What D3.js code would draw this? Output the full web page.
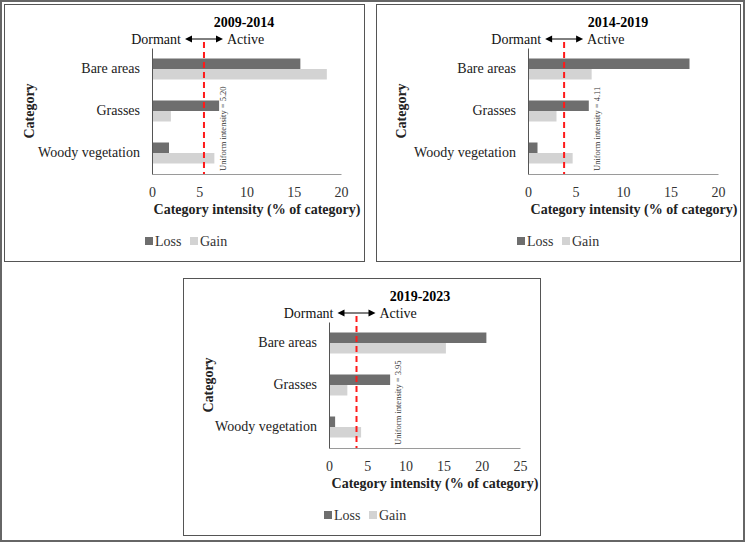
<!DOCTYPE html>
<html lang="en">
  <head>
    <meta charset="UTF-8" />
    <title>Category intensity</title>
    <script src="https://d3js.org/d3.v7.min.js"></script>
    <style>
      body {
        margin: 0;
        background: #fff;
      }
    </style>
  </head>
  <body>
    <div id="chart-container"></div>

    <script>
      // Data
      const categories = ['Bare areas', 'Grasses', 'Woody vegetation'];
      const periods = ['2009-2014', '2014-2019', '2019-2023'];
      const series = ['Loss', 'Gain'];
      const loss = [
        [15.7, 7.1, 1.8],
        [17.0, 6.4, 1.0],
        [20.6, 8.0, 0.8],
      ];
      const gain = [
        [18.5, 2.0, 6.6],
        [6.7, 3.0, 4.7],
        [15.3, 2.4, 4.2],
      ];
      const uniformLabels = ['5.20', '4.11', '3.95'];
      const uniformLine = [5.5, 3.8, 3.6];
      const xMax = [20, 20, 25];
      const xTicks = [
        [0, 5, 10, 15, 20],
        [0, 5, 10, 15, 20],
        [0, 5, 10, 15, 20, 25],
      ];

      const colors = { Loss: '#6e6e6e', Gain: '#d3d3d3' };
      const serif = "'Liberation Serif', 'Times New Roman', 'DejaVu Serif', serif";

      // panel boxes (layout only)
      const boxes = [
        { x: 4, y: 4, w: 360, h: 257, plotLeft: 148, plotW: 189, labelX: 222, titleX: 240, axisTitleX: 253 },
        { x: 376, y: 4, w: 364, h: 257, plotLeft: 152, plotW: 190, labelX: 224, titleX: 242, axisTitleX: 258 },
        { x: 183, y: 278, w: 357, h: 257, plotLeft: 146, plotW: 191, labelX: 218, titleX: 237, axisTitleX: 252 },
      ];

      const svg = d3
        .select('#chart-container')
        .append('svg')
        .attr('width', 746)
        .attr('height', 543);

      // outer frame
      svg
        .append('rect')
        .attr('x', 1)
        .attr('y', 1)
        .attr('width', 743)
        .attr('height', 540)
        .attr('fill', 'none')
        .attr('stroke', '#666')
        .attr('stroke-width', 2);

      periods.forEach(function (period, i) {
        const b = boxes[i];
        const g = svg
          .append('g')
          .attr('transform', `translate(${b.x},${b.y})`);

        g.append('rect')
          .attr('x', 0.5)
          .attr('y', 0.5)
          .attr('width', b.w)
          .attr('height', b.h)
          .attr('fill', '#fff')
          .attr('stroke', '#555')
          .attr('stroke-width', 1);

        const x = d3
          .scaleLinear()
          .domain([0, xMax[i]])
          .range([b.plotLeft, b.plotLeft + b.plotW]);

        const y = d3
          .scaleBand()
          .domain(categories)
          .range([44, 170])
          .paddingInner(0.5)
          .paddingOuter(0.25);

        const ySub = d3
          .scaleBand()
          .domain(series)
          .range([0, y.bandwidth()]);

        const rows = categories.map((c, k) => ({
          category: c,
          Loss: loss[i][k],
          Gain: gain[i][k],
        }));

        // bars
        rows.forEach(function (r) {
          g.selectAll(null)
            .data(series)
            .enter()
            .append('rect')
            .attr('x', x(0))
            .attr('y', (s) => y(r.category) + ySub(s))
            .attr('width', (s) => x(r[s]) - x(0))
            .attr('height', ySub.bandwidth())
            .attr('fill', (s) => colors[s]);
        });

        // x axis
        const xAxis = g
          .append('g')
          .attr('transform', 'translate(0,170)')
          .call(
            d3
              .axisBottom(x)
              .tickValues(xTicks[i])
              .tickSize(0)
              .tickPadding(13),
          );
        xAxis.select('.domain').attr('stroke', '#9a9a9a');
        xAxis
          .selectAll('text')
          .style('font-size', '14px')
          .attr('fill', '#333');

        // y axis
        const yAxis = g
          .append('g')
          .attr('transform', `translate(${x(0)},0)`)
          .call(d3.axisLeft(y).tickSize(0).tickPadding(12));
        yAxis.select('.domain').attr('stroke', '#555');
        yAxis
          .selectAll('text')
          .style('font-size', '14px')
          .attr('fill', '#222');

        // uniform intensity line
        const ux = x(uniformLine[i]);
        g.append('line')
          .attr('x1', ux)
          .attr('x2', ux)
          .attr('y1', 38)
          .attr('y2', 170)
          .attr('stroke', '#ff1a1a')
          .attr('stroke-width', 2)
          .attr('stroke-dasharray', '6,4');

        g.append('text')
          .attr('transform', `translate(${b.labelX},167) rotate(-90)`)
          .style('font-size', '8.5px')
          .attr('fill', '#333')
          .text('Uniform intensity = ' + uniformLabels[i]);

        // Dormant <-> Active
        g.append('line')
          .attr('x1', ux - 16)
          .attr('x2', ux + 16)
          .attr('y1', 35)
          .attr('y2', 35)
          .attr('stroke', '#000')
          .attr('stroke-width', 1);
        [
          [ux - 19, -1],
          [ux + 19, 1],
        ].forEach(function (a) {
          g.append('path')
            .attr(
              'd',
              `M${a[0]},35 L${a[0] - a[1] * 7},31.5 L${a[0] - a[1] * 7},38.5 Z`,
            )
            .attr('fill', '#000');
        });
        g.append('text')
          .attr('x', ux - 23)
          .attr('y', 40)
          .attr('text-anchor', 'end')
          .style('font-size', '14px')
          .attr('fill', '#111')
          .text('Dormant');
        g.append('text')
          .attr('x', ux + 23)
          .attr('y', 40)
          .style('font-size', '14px')
          .attr('fill', '#111')
          .text('Active');

        // title
        g.append('text')
          .attr('x', b.titleX)
          .attr('y', 23)
          .attr('text-anchor', 'middle')
          .style('font-size', '14px')
          .style('font-weight', 'bold')
          .text(period);

        // axis titles
        g.append('text')
          .attr('x', b.axisTitleX)
          .attr('y', 210)
          .attr('text-anchor', 'middle')
          .style('font-size', '14px')
          .style('font-weight', 'bold')
          .attr('fill', '#222')
          .text('Category intensity (% of category)');

        g.append('text')
          .attr('transform', 'translate(30,107) rotate(-90)')
          .attr('text-anchor', 'middle')
          .style('font-size', '14px')
          .style('font-weight', 'bold')
          .attr('fill', '#222')
          .text('Category');

        // legend
        const legend = g
          .selectAll('.legend')
          .data(series)
          .enter()
          .append('g')
          .attr('transform', (s, k) => `translate(${141 + k * 45},233)`);
        legend
          .append('rect')
          .attr('width', 8)
          .attr('height', 8)
          .attr('fill', (s) => colors[s]);
        legend
          .append('text')
          .attr('x', 10)
          .attr('y', 9)
          .style('font-size', '14px')
          .attr('fill', '#333')
          .text((s) => s);
      });

      svg.selectAll('text').style('font-family', serif);
    </script>
  </body>
</html>
